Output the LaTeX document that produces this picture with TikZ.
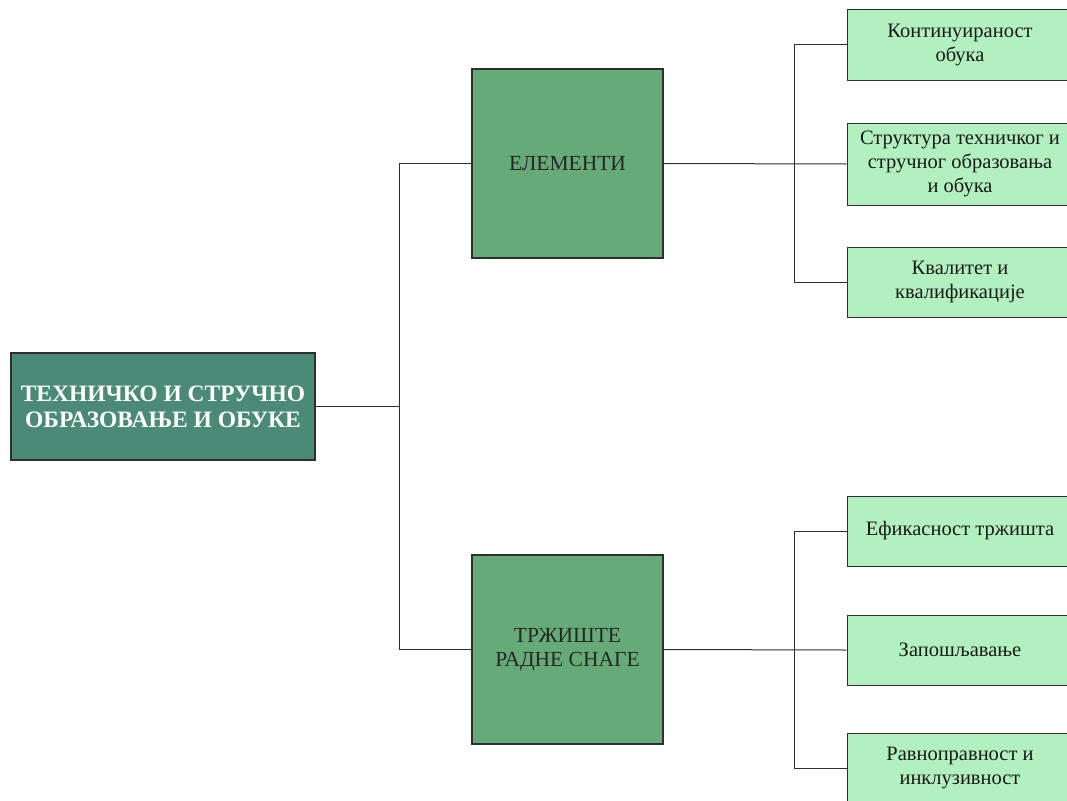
\documentclass[tikz,border=0pt]{standalone}
\usepackage{fontspec}
\setmainfont{Liberation Serif}
\definecolor{rootfill}{HTML}{4A8A76}
\definecolor{midfill}{HTML}{66AA78}
\definecolor{leaffill}{HTML}{B3F0BF}
\definecolor{edge}{HTML}{2E2E2E}
\begin{document}
\begin{tikzpicture}[x=1pt,y=-1pt,
  box/.style={draw=edge,line width=1.2pt,rectangle,align=center,inner sep=2pt},
  rootbox/.style={box,fill=rootfill,minimum width=304pt,minimum height=107pt,
    text=white,font=\fontsize{23.5}{26}\selectfont\bfseries},
  midbox/.style={box,fill=midfill,minimum width=191pt,minimum height=189pt,
    text=black!85,font=\fontsize{21.5}{24}\selectfont},
  leafbox/.style={box,fill=leaffill,line width=1pt,minimum width=226pt,minimum height=70pt,
    text=black!90,font=\fontsize{20.5}{24}\selectfont},
  link/.style={draw=edge,line width=1pt}]
\useasboundingbox (0,0) rectangle (1067,800);
\clip (0,0) rectangle (1067,800);

% main topic
\node[rootbox] (root) at (163,406.5) {ТЕХНИЧКО И СТРУЧНО\\ОБРАЗОВАЊЕ И ОБУКЕ};

% two branches
\node[midbox] (elem) at (567.5,163.5) {ЕЛЕМЕНТИ};
\node[midbox] (market) at (567.5,649.5) {ТРЖИШТЕ\\РАДНЕ СНАГЕ};

% leaves of the first branch
\node[leafbox] (l1) at (960,45) {Континуираност\\обука};
\node[leafbox,minimum height=82pt] (l2) at (960,164) {Структура техничког и\\стручног образовања\\и обука};
\node[leafbox] (l3) at (960,282) {Квалитет и\\квалификације};

% leaves of the second branch
\node[leafbox] (l4) at (960,531) {Ефикасност тржишта};
\node[leafbox] (l5) at (960,650) {Запошљавање};
\node[leafbox] (l6) at (960,768) {Равноправност и\\инклузивност};

% connectors
\coordinate (j0) at (399,406.5);
\coordinate (j1) at (794,163.5);
\coordinate (j2) at (794,649.5);
\draw[link] (root.east) -- (j0);
\draw[link] (j0) |- (elem.west);
\draw[link] (j0) |- (market.west);
\draw[link] (elem.east) -- (l2.west);
\draw[link] (j1) |- (l1.west);
\draw[link] (j1) |- (l3.west);
\draw[link] (market.east) -- (l5.west);
\draw[link] (j2) |- (l4.west);
\draw[link] (j2) |- (l6.west);
\end{tikzpicture}
\end{document}
